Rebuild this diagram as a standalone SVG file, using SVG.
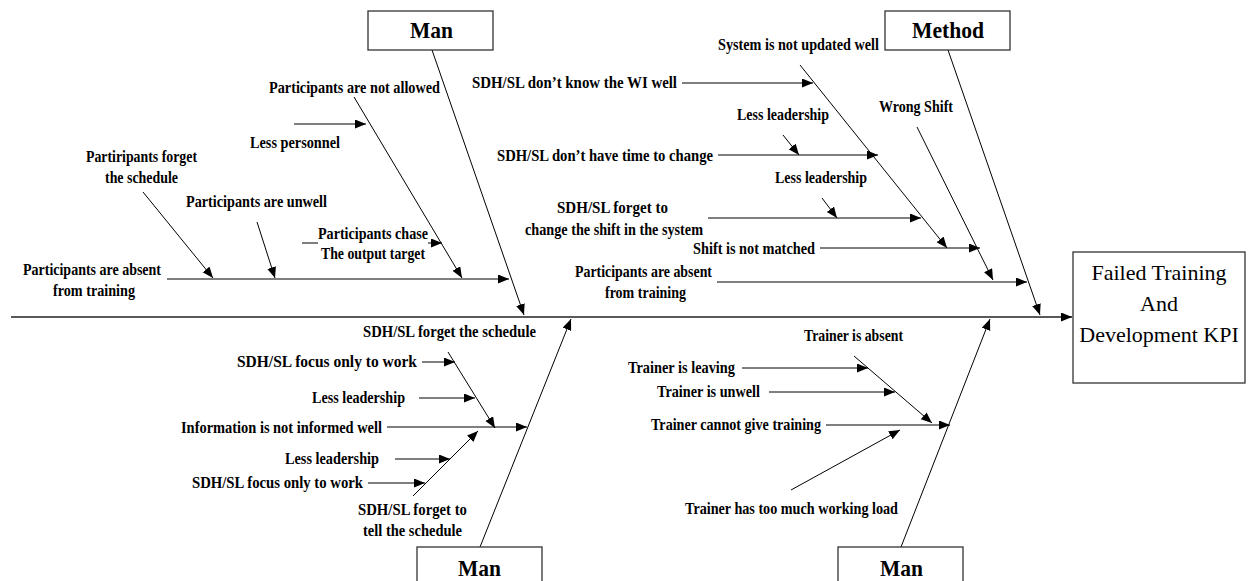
<svg xmlns="http://www.w3.org/2000/svg" width="1248" height="581" viewBox="0 0 1248 581">
  <style>
    .lbl { font-family: "Liberation Serif", "Times New Roman", serif; font-weight: bold; font-size: 16.5px; fill: #000; }
    .hdr { font-family: "Liberation Serif", "Times New Roman", serif; font-weight: bold; font-size: 24px; fill: #000; }
    .head { font-family: "Liberation Serif", "Times New Roman", serif; font-size: 22px; fill: #000; text-anchor: middle; }
    .box { fill: #fff; stroke: #333; stroke-width: 1.3; }
    .ln { stroke: #000; stroke-width: 1; fill: none; }
    .arr { stroke: #000; stroke-width: 1; fill: none; marker-end: url(#tip); }
    .spine { stroke: #222; stroke-width: 1.6; fill: none; marker-end: url(#tip); }
  </style>
  <defs>
    <marker id="tip" markerUnits="userSpaceOnUse" markerWidth="12" markerHeight="10" refX="11" refY="4.5" orient="auto">
      <path d="M0,0 L11,4.5 L0,9 z" fill="#000"/>
    </marker>
  </defs>
  <rect width="1248" height="581" fill="#fff"/>

  <!-- connectors: spine, bones and cause arrows -->
  <g id="connectors">
    <line class="spine" x1="11" y1="317" x2="1072" y2="317"/>
    <line class="arr" x1="432" y1="50" x2="524" y2="315"/>
    <line class="arr" x1="948" y1="50" x2="1040" y2="315"/>
    <line class="arr" x1="480" y1="547" x2="571" y2="319"/>
    <line class="arr" x1="901" y1="547" x2="990" y2="319"/>

    <!-- upper left bone -->
    <line class="arr" x1="167" y1="279" x2="509" y2="279"/>
    <line class="arr" x1="143" y1="192" x2="213" y2="278"/>
    <line class="arr" x1="257" y1="222" x2="275" y2="278"/>
    <line class="arr" x1="354" y1="97" x2="462" y2="278"/>
    <line class="arr" x1="294" y1="124" x2="366" y2="124"/>
    <line class="ln" x1="302" y1="243" x2="318" y2="243"/>
    <line class="arr" x1="428" y1="243" x2="442" y2="243"/>

    <!-- upper right bone -->
    <line class="arr" x1="682" y1="83" x2="813" y2="83"/>
    <line class="arr" x1="800" y1="65" x2="947" y2="248"/>
    <line class="arr" x1="783" y1="135" x2="799" y2="155"/>
    <line class="arr" x1="718" y1="155" x2="878" y2="155"/>
    <line class="arr" x1="822" y1="198" x2="837" y2="218"/>
    <line class="arr" x1="708" y1="218" x2="921" y2="218"/>
    <line class="arr" x1="820" y1="248" x2="980" y2="248"/>
    <line class="arr" x1="917" y1="127" x2="993" y2="280"/>
    <line class="arr" x1="717" y1="282" x2="1027" y2="282"/>

    <!-- lower left bone -->
    <line class="arr" x1="448" y1="352" x2="495" y2="428"/>
    <line class="arr" x1="422" y1="362" x2="455" y2="362"/>
    <line class="arr" x1="419" y1="398" x2="475" y2="398"/>
    <line class="arr" x1="387" y1="427" x2="527" y2="427"/>
    <line class="arr" x1="413" y1="496" x2="478" y2="431"/>
    <line class="arr" x1="395" y1="459" x2="450" y2="459"/>
    <line class="arr" x1="368" y1="483" x2="425" y2="483"/>

    <!-- lower right bone -->
    <line class="arr" x1="854" y1="356" x2="932" y2="423"/>
    <line class="arr" x1="742" y1="368" x2="868" y2="368"/>
    <line class="arr" x1="769" y1="392" x2="895" y2="392"/>
    <line class="arr" x1="826" y1="425" x2="950" y2="425"/>
    <line class="arr" x1="791" y1="490" x2="900" y2="430"/>
  </g>

  <!-- category boxes -->
  <g id="cat-man-top">
    <rect class="box" x="368" y="11" width="125" height="39"/>
    <text class="hdr" x="410" y="38" textLength="43" lengthAdjust="spacingAndGlyphs">Man</text>
  </g>
  <g id="cat-method">
    <rect class="box" x="885" y="11" width="125" height="39"/>
    <text class="hdr" x="912" y="38" textLength="72" lengthAdjust="spacingAndGlyphs">Method</text>
  </g>
  <g id="cat-man-bottom-left">
    <rect class="box" x="417" y="547" width="125" height="50"/>
    <text class="hdr" x="458" y="576" textLength="43" lengthAdjust="spacingAndGlyphs">Man</text>
  </g>
  <g id="cat-man-bottom-right">
    <rect class="box" x="838" y="547" width="125" height="50"/>
    <text class="hdr" x="880" y="576" textLength="43" lengthAdjust="spacingAndGlyphs">Man</text>
  </g>
  <g id="effect">
    <rect class="box" x="1073" y="252" width="172" height="131"/>
    <text class="head" x="1159" y="280">Failed Training</text>
    <text class="head" x="1159" y="311">And</text>
    <text class="head" x="1159" y="342">Development KPI</text>
  </g>

  <!-- causes: upper left -->
  <g id="causes-upper-left">
    <text class="lbl" x="269" y="93" textLength="171" lengthAdjust="spacingAndGlyphs">Participants are not allowed</text>
    <text class="lbl" x="250" y="148" textLength="90" lengthAdjust="spacingAndGlyphs">Less personnel</text>
    <text class="lbl" x="86" y="162" textLength="111" lengthAdjust="spacingAndGlyphs">Partiripants forget</text>
    <text class="lbl" x="105" y="183" textLength="73" lengthAdjust="spacingAndGlyphs">the schedule</text>
    <text class="lbl" x="186" y="207" textLength="141" lengthAdjust="spacingAndGlyphs">Participants are unwell</text>
    <text class="lbl" x="318" y="239" textLength="110" lengthAdjust="spacingAndGlyphs">Participants chase</text>
    <text class="lbl" x="321" y="259" textLength="104" lengthAdjust="spacingAndGlyphs">The output target</text>
    <text class="lbl" x="23" y="275" textLength="138" lengthAdjust="spacingAndGlyphs">Participants are absent</text>
    <text class="lbl" x="53" y="296" textLength="82" lengthAdjust="spacingAndGlyphs">from training</text>
  </g>

  <!-- causes: upper right -->
  <g id="causes-upper-right">
    <text class="lbl" x="718" y="50" textLength="161" lengthAdjust="spacingAndGlyphs">System is not updated well</text>
    <text class="lbl" x="472" y="88" textLength="205" lengthAdjust="spacingAndGlyphs">SDH/SL don’t know the WI well</text>
    <text class="lbl" x="737" y="120" textLength="92" lengthAdjust="spacingAndGlyphs">Less leadership</text>
    <text class="lbl" x="497" y="161" textLength="216" lengthAdjust="spacingAndGlyphs">SDH/SL don’t have time to change</text>
    <text class="lbl" x="775" y="183" textLength="92" lengthAdjust="spacingAndGlyphs">Less leadership</text>
    <text class="lbl" x="557" y="213" textLength="111" lengthAdjust="spacingAndGlyphs">SDH/SL forget to</text>
    <text class="lbl" x="525" y="235" textLength="178" lengthAdjust="spacingAndGlyphs">change the shift in the system</text>
    <text class="lbl" x="693" y="254" textLength="122" lengthAdjust="spacingAndGlyphs">Shift is not matched</text>
    <text class="lbl" x="575" y="277" textLength="137" lengthAdjust="spacingAndGlyphs">Participants are absent</text>
    <text class="lbl" x="605" y="298" textLength="81" lengthAdjust="spacingAndGlyphs">from training</text>
    <text class="lbl" x="879" y="112" textLength="74" lengthAdjust="spacingAndGlyphs">Wrong Shift</text>
  </g>

  <!-- causes: lower left -->
  <g id="causes-lower-left">
    <text class="lbl" x="363" y="337" textLength="173" lengthAdjust="spacingAndGlyphs">SDH/SL forget the schedule</text>
    <text class="lbl" x="237" y="367" textLength="180" lengthAdjust="spacingAndGlyphs">SDH/SL focus only to work</text>
    <text class="lbl" x="312" y="403" textLength="93" lengthAdjust="spacingAndGlyphs">Less leadership</text>
    <text class="lbl" x="181" y="433" textLength="201" lengthAdjust="spacingAndGlyphs">Information is not informed well</text>
    <text class="lbl" x="285" y="464" textLength="94" lengthAdjust="spacingAndGlyphs">Less leadership</text>
    <text class="lbl" x="192" y="488" textLength="171" lengthAdjust="spacingAndGlyphs">SDH/SL focus only to work</text>
    <text class="lbl" x="358" y="515" textLength="109" lengthAdjust="spacingAndGlyphs">SDH/SL forget to</text>
    <text class="lbl" x="363" y="536" textLength="99" lengthAdjust="spacingAndGlyphs">tell the schedule</text>
  </g>

  <!-- causes: lower right -->
  <g id="causes-lower-right">
    <text class="lbl" x="804" y="341" textLength="99" lengthAdjust="spacingAndGlyphs">Trainer is absent</text>
    <text class="lbl" x="628" y="373" textLength="107" lengthAdjust="spacingAndGlyphs">Trainer is leaving</text>
    <text class="lbl" x="657" y="397" textLength="103" lengthAdjust="spacingAndGlyphs">Trainer is unwell</text>
    <text class="lbl" x="651" y="430" textLength="170" lengthAdjust="spacingAndGlyphs">Trainer cannot give training</text>
    <text class="lbl" x="685" y="514" textLength="213" lengthAdjust="spacingAndGlyphs">Trainer has too much working load</text>
  </g>
</svg>
